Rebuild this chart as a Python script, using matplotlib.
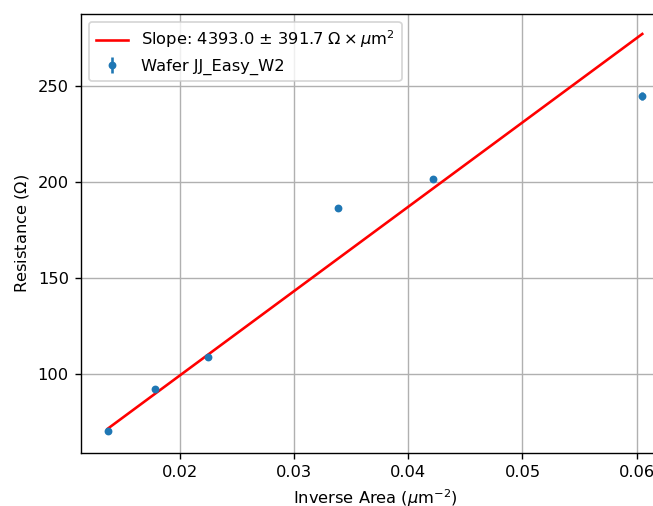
import numpy as np
import matplotlib
matplotlib.use("Agg")
import matplotlib.pyplot as plt

# Junction measurements
inv_area = np.array([0.01365, 0.01782, 0.02246, 0.03382, 0.04219, 0.06050])
resistance = np.array([70.0, 92.2, 108.4, 186.2, 201.6, 244.6])
resistance_err = np.array([1.0, 1.0, 1.0, 1.2, 1.2, 2.2])

slope = 4393.0
slope_err = 391.7
intercept = 11.3

plt.rcParams["font.size"] = 9.4

fig = plt.figure(figsize=(653 / 125, 506 / 125), dpi=125)
ax = fig.add_axes([81 / 653, 53 / 506, (669 - 81) / 653, 439 / 506])

fit = slope * inv_area + intercept
ax.plot(inv_area, fit, color="red", linewidth=1.5,
        label=rf"Slope: {slope:.1f} $\pm$ {slope_err:.1f} $\Omega \times \mu$m$^2$")
ax.errorbar(inv_area, resistance, yerr=resistance_err, fmt="o", markersize=3.5,
            label="Wafer JJ_Easy_W2")

ax.set_xlabel(r"Inverse Area ($\mu$m$^{-2}$)")
ax.set_ylabel(r"Resistance ($\Omega$)")
ax.set_yticks([100, 150, 200, 250])
ax.grid(True)
ax.legend(loc="upper left")

fig.savefig("out.png", dpi=125)
